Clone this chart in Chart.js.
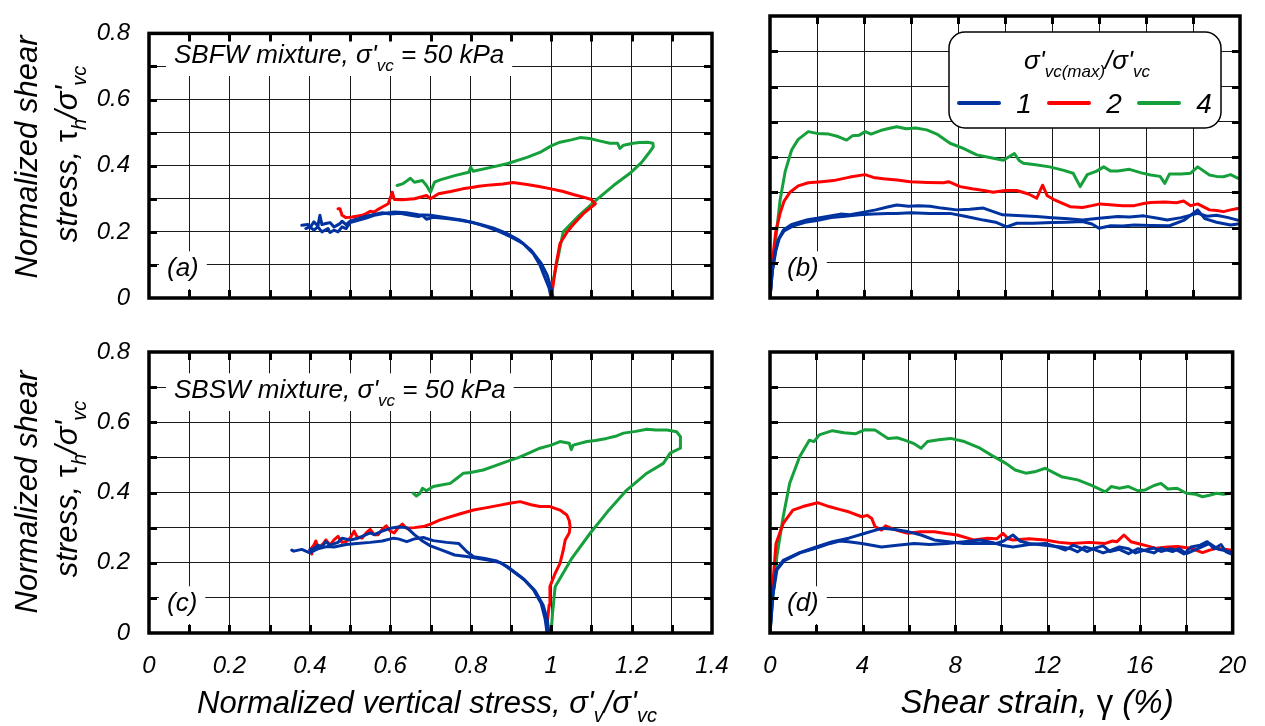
<!DOCTYPE html>
<html>
<head>
<meta charset="utf-8">
<script src="https://cdn.jsdelivr.net/npm/chart.js@4.4.1/dist/chart.umd.min.js"></script>
<style>
  html, body { margin: 0; padding: 0; background: #fff; }
  #wrap { position: relative; width: 1265px; height: 726px; overflow: hidden; }
  #wrap canvas { position: absolute; left: 0; top: 0; }
</style>
</head>
<body>
<div id="wrap">
  <canvas id="panelA" width="1265" height="726"></canvas>
  <canvas id="panelB" width="1265" height="726"></canvas>
  <canvas id="panelC" width="1265" height="726"></canvas>
  <canvas id="panelD" width="1265" height="726"></canvas>
</div>
<script>
// ---------------- data ----------------
// OCR values (sigma'vc(max) / sigma'vc) shown in the legend
const ocrLabels = ['1', '2', '4'];
const ocrColors = ['#0033a0', '#ff0000', '#16a03c'];

// Stress axis ticks (normalized vertical stress) and strain axis ticks (%)
const stressTicks = [0, 0.2, 0.4, 0.6, 0.8, 1, 1.2, 1.4];
const strainTicks = [0, 4, 8, 12, 16, 20];
const shearTicks = [0, 0.2, 0.4, 0.6, 0.8];

// (a) SBFW stress paths: [sigma'v/sigma'vc, tau_h/sigma'vc]
const sbfwPathOcr1a = [[1.00,0.00],[0.995,0.03],[0.985,0.06],[0.972,0.10],[0.955,0.135],[0.93,0.165],[0.90,0.185],[0.873,0.20],[0.84,0.215],[0.806,0.228],[0.77,0.236],[0.74,0.24],[0.706,0.244],[0.69,0.238],[0.68,0.25],[0.67,0.246],[0.65,0.25],[0.624,0.256],[0.60,0.254],[0.58,0.258],[0.557,0.252],[0.54,0.247],[0.52,0.24],[0.50,0.232],[0.49,0.222],[0.48,0.232],[0.475,0.225],[0.465,0.218],[0.46,0.215],[0.45,0.228],[0.44,0.225],[0.43,0.222],[0.425,0.25],[0.42,0.218],[0.41,0.23],[0.40,0.212],[0.395,0.222],[0.38,0.22]];
const sbfwPathOcr1b = [[1.005,0.00],[1.0,0.03],[0.99,0.07],[0.975,0.105],[0.95,0.145],[0.92,0.175],[0.89,0.195],[0.86,0.21],[0.82,0.224],[0.78,0.235],[0.74,0.243],[0.70,0.25],[0.67,0.252],[0.64,0.258],[0.61,0.26],[0.58,0.255],[0.56,0.25],[0.54,0.242],[0.52,0.235],[0.50,0.228],[0.49,0.21],[0.48,0.215],[0.47,0.20],[0.46,0.205],[0.45,0.198],[0.445,0.21],[0.43,0.20],[0.42,0.215],[0.41,0.205],[0.40,0.215],[0.39,0.21]];
const sbfwPathOcr2 = [[1.0,0.0],[1.005,0.04],[1.012,0.10],[1.022,0.165],[1.04,0.20],[1.055,0.222],[1.08,0.255],[1.11,0.285],[1.10,0.298],[1.08,0.305],[1.055,0.313],[1.03,0.322],[1.0,0.33],[0.97,0.337],[0.94,0.343],[0.905,0.349],[0.88,0.345],[0.85,0.342],[0.82,0.338],[0.806,0.335],[0.78,0.33],[0.75,0.322],[0.72,0.315],[0.70,0.30],[0.69,0.31],[0.66,0.30],[0.63,0.297],[0.61,0.298],[0.605,0.32],[0.595,0.285],[0.58,0.275],[0.57,0.268],[0.56,0.26],[0.55,0.262],[0.54,0.255],[0.53,0.25],[0.52,0.248],[0.505,0.245],[0.49,0.243],[0.48,0.25],[0.475,0.27],[0.47,0.27]];
const sbfwPathOcr4 = [[1.0,0.0],[1.003,0.04],[1.008,0.07],[1.02,0.14],[1.03,0.20],[1.07,0.25],[1.114,0.298],[1.155,0.34],[1.196,0.377],[1.225,0.41],[1.246,0.443],[1.254,0.457],[1.253,0.468],[1.24,0.471],[1.22,0.47],[1.204,0.468],[1.18,0.462],[1.171,0.452],[1.165,0.468],[1.146,0.468],[1.12,0.475],[1.096,0.482],[1.072,0.485],[1.05,0.478],[1.022,0.471],[1.0,0.46],[0.972,0.44],[0.94,0.425],[0.89,0.406],[0.85,0.395],[0.806,0.383],[0.80,0.395],[0.795,0.38],[0.76,0.37],[0.724,0.357],[0.71,0.35],[0.70,0.32],[0.69,0.34],[0.68,0.355],[0.66,0.35],[0.65,0.362],[0.641,0.354],[0.63,0.345],[0.617,0.34]];

// (b) SBFW stress-strain: [gamma %, tau_h/sigma'vc]
const sbfwCurveOcr1a = [[0,0],[0.08,0.07],[0.21,0.127],[0.35,0.165],[0.57,0.193],[0.9,0.208],[1.28,0.216],[1.6,0.222],[2.0,0.226],[2.5,0.232],[3.0,0.238],[3.4,0.236],[4.11,0.245],[4.5,0.25],[5.0,0.258],[5.39,0.264],[5.9,0.26],[6.3,0.262],[6.81,0.26],[7.3,0.255],[7.94,0.25],[8.5,0.252],[9.08,0.255],[9.5,0.245],[9.9,0.236],[10.5,0.234],[11.35,0.231],[12.0,0.228],[12.7,0.225],[13.3,0.221],[14.0,0.226],[14.8,0.231],[15.3,0.23],[15.9,0.233],[16.5,0.226],[16.9,0.221],[17.5,0.228],[18.2,0.24],[18.6,0.232],[19.0,0.235],[19.5,0.228],[19.9,0.221]];
const sbfwCurveOcr1b = [[0,0],[0.1,0.075],[0.25,0.135],[0.4,0.17],[0.6,0.19],[1.0,0.205],[1.5,0.215],[2.0,0.22],[2.6,0.228],[3.2,0.232],[3.8,0.236],[4.4,0.238],[5.0,0.24],[5.39,0.24],[6.0,0.242],[6.8,0.24],[7.66,0.24],[8.3,0.232],[9.08,0.221],[9.6,0.215],[10.07,0.202],[10.5,0.212],[11.2,0.212],[12.0,0.214],[12.6,0.215],[13.3,0.217],[13.7,0.21],[14.0,0.198],[14.5,0.205],[15.0,0.204],[15.5,0.207],[16.2,0.206],[17.0,0.205],[17.6,0.22],[18.2,0.25],[18.5,0.225],[19.0,0.215],[19.6,0.207],[19.9,0.21]];
const sbfwCurveOcr2 = [[0,0],[0.14,0.127],[0.25,0.19],[0.43,0.24],[0.6,0.275],[0.85,0.30],[1.2,0.318],[1.63,0.327],[2.2,0.33],[2.7,0.333],[3.4,0.343],[4.04,0.35],[4.4,0.342],[4.82,0.338],[5.4,0.335],[5.96,0.33],[6.7,0.328],[7.38,0.327],[7.6,0.33],[8.09,0.316],[8.6,0.31],[9.1,0.305],[9.5,0.30],[10.0,0.305],[10.5,0.305],[11.0,0.295],[11.35,0.283],[11.6,0.32],[11.8,0.29],[12.06,0.28],[12.4,0.27],[12.77,0.259],[13.3,0.257],[13.7,0.262],[14.04,0.267],[14.6,0.264],[15.0,0.262],[15.5,0.262],[15.9,0.268],[16.2,0.271],[16.8,0.272],[17.3,0.27],[17.6,0.275],[17.9,0.262],[18.2,0.267],[18.7,0.25],[19.0,0.248],[19.3,0.245],[19.6,0.25],[19.9,0.254]];
const sbfwCurveOcr4 = [[0,0],[0.1,0.08],[0.25,0.17],[0.43,0.278],[0.65,0.36],[0.92,0.42],[1.2,0.45],[1.63,0.472],[2.0,0.467],[2.5,0.465],[2.9,0.458],[3.26,0.448],[3.5,0.46],[3.8,0.462],[4.05,0.472],[4.3,0.465],[4.7,0.475],[5.0,0.48],[5.39,0.486],[5.8,0.48],[6.2,0.482],[6.67,0.477],[7.1,0.465],[7.66,0.439],[8.2,0.425],[8.8,0.406],[9.4,0.398],[9.93,0.391],[10.4,0.41],[10.6,0.39],[10.78,0.382],[11.3,0.378],[11.9,0.372],[12.5,0.362],[12.9,0.354],[13.2,0.316],[13.5,0.35],[13.9,0.36],[14.2,0.372],[14.5,0.36],[14.8,0.36],[15.3,0.365],[15.8,0.355],[16.2,0.349],[16.6,0.345],[16.8,0.325],[17.0,0.352],[17.5,0.352],[17.9,0.354],[18.2,0.372],[18.7,0.349],[19.0,0.345],[19.3,0.344],[19.6,0.35],[19.9,0.34]];

// (c) SBSW stress paths
const sbswPathOcr1a = [[0.99,0.0],[0.985,0.04],[0.975,0.085],[0.955,0.125],[0.93,0.155],[0.89,0.19],[0.865,0.205],[0.835,0.212],[0.807,0.217],[0.79,0.232],[0.77,0.255],[0.74,0.258],[0.707,0.263],[0.682,0.272],[0.66,0.268],[0.641,0.26],[0.62,0.268],[0.608,0.27],[0.58,0.262],[0.55,0.258],[0.517,0.255],[0.49,0.252],[0.46,0.245],[0.442,0.246],[0.42,0.24],[0.40,0.228],[0.38,0.238],[0.36,0.233],[0.355,0.236]];
const sbswPathOcr1b = [[0.995,0.0],[0.99,0.04],[0.98,0.08],[0.96,0.12],[0.935,0.15],[0.90,0.18],[0.875,0.20],[0.85,0.206],[0.82,0.212],[0.79,0.218],[0.76,0.222],[0.73,0.235],[0.70,0.248],[0.68,0.262],[0.66,0.28],[0.641,0.30],[0.62,0.302],[0.60,0.298],[0.58,0.29],[0.56,0.28],[0.55,0.285],[0.52,0.27],[0.50,0.265],[0.48,0.27],[0.47,0.258],[0.45,0.25],[0.44,0.26],[0.43,0.245],[0.42,0.25],[0.41,0.24],[0.40,0.238]];
const sbswPathOcr2 = [[0.99,0.0],[0.99,0.023],[0.995,0.08],[0.997,0.132],[1.01,0.17],[1.022,0.198],[1.03,0.235],[1.035,0.265],[1.045,0.285],[1.047,0.303],[1.045,0.32],[1.039,0.336],[1.022,0.35],[0.997,0.36],[0.972,0.36],[0.95,0.365],[0.923,0.374],[0.90,0.37],[0.873,0.364],[0.84,0.357],[0.807,0.35],[0.77,0.338],[0.724,0.322],[0.70,0.31],[0.682,0.303],[0.66,0.30],[0.64,0.298],[0.63,0.31],[0.62,0.30],[0.61,0.285],[0.60,0.29],[0.59,0.305],[0.58,0.295],[0.57,0.28],[0.56,0.28],[0.55,0.295],[0.54,0.285],[0.53,0.27],[0.517,0.274],[0.51,0.29],[0.50,0.27],[0.49,0.26],[0.48,0.258],[0.47,0.275],[0.46,0.265],[0.45,0.25],[0.44,0.265],[0.434,0.255],[0.42,0.24],[0.415,0.262],[0.41,0.25],[0.40,0.236],[0.405,0.225]];
const sbswPathOcr4 = [[1.0,0.0],[1.003,0.05],[1.01,0.132],[1.05,0.21],[1.097,0.284],[1.14,0.345],[1.188,0.407],[1.238,0.455],[1.279,0.483],[1.296,0.512],[1.321,0.526],[1.322,0.545],[1.321,0.559],[1.312,0.573],[1.288,0.578],[1.26,0.578],[1.238,0.58],[1.21,0.574],[1.18,0.569],[1.16,0.56],[1.138,0.554],[1.11,0.548],[1.089,0.545],[1.055,0.535],[1.05,0.522],[1.045,0.54],[1.022,0.545],[1.0,0.535],[0.972,0.526],[0.95,0.515],[0.92,0.50],[0.889,0.488],[0.86,0.476],[0.831,0.464],[0.80,0.457],[0.782,0.455],[0.765,0.44],[0.749,0.426],[0.72,0.42],[0.707,0.417],[0.69,0.405],[0.68,0.412],[0.674,0.398],[0.665,0.39],[0.657,0.398]];

// (d) SBSW stress-strain
const sbswCurveOcr1a = [[0,0],[0.1,0.10],[0.26,0.179],[0.57,0.207],[1.28,0.229],[2.0,0.245],[2.7,0.26],[3.4,0.27],[4.11,0.284],[4.82,0.298],[5.2,0.296],[5.53,0.293],[6.0,0.288],[6.53,0.279],[7.1,0.265],[7.7,0.26],[8.37,0.255],[9.1,0.255],[9.79,0.255],[10.1,0.262],[10.5,0.279],[10.8,0.262],[11.2,0.255],[11.9,0.25],[12.6,0.245],[13.0,0.24],[13.3,0.231],[13.6,0.245],[14.0,0.238],[14.4,0.228],[14.75,0.236],[15.1,0.245],[15.5,0.24],[15.8,0.228],[16.2,0.236],[16.6,0.242],[16.9,0.232],[17.3,0.24],[17.6,0.236],[17.9,0.225],[18.2,0.245],[18.6,0.25],[18.9,0.26],[19.2,0.24],[19.5,0.252],[19.7,0.232],[19.9,0.226]];
const sbswCurveOcr1b = [[0,0],[0.12,0.105],[0.3,0.18],[0.6,0.205],[1.3,0.228],[2.0,0.242],[2.6,0.255],[3.0,0.262],[3.4,0.26],[3.97,0.255],[4.4,0.25],[4.82,0.245],[5.5,0.25],[6.24,0.255],[6.9,0.252],[7.66,0.255],[8.4,0.26],[9.08,0.265],[9.6,0.258],[10.0,0.25],[10.5,0.245],[11.2,0.252],[11.9,0.255],[12.4,0.245],[12.77,0.236],[13.1,0.25],[13.4,0.243],[13.7,0.232],[14.0,0.241],[14.4,0.248],[14.7,0.232],[15.1,0.238],[15.5,0.226],[15.9,0.24],[16.2,0.235],[16.6,0.228],[16.9,0.241],[17.4,0.232],[17.7,0.24],[18.0,0.226],[18.5,0.24],[19.0,0.255],[19.4,0.238],[19.9,0.231]];
const sbswCurveOcr2 = [[0,0],[0.1,0.12],[0.26,0.255],[0.57,0.312],[0.99,0.35],[1.42,0.36],[2.06,0.371],[2.55,0.36],[3.0,0.352],[3.4,0.345],[3.97,0.331],[4.2,0.335],[4.4,0.326],[4.54,0.303],[4.82,0.293],[5.0,0.305],[5.25,0.298],[5.6,0.29],[5.96,0.284],[6.5,0.288],[7.1,0.288],[7.6,0.283],[8.09,0.279],[8.8,0.265],[9.4,0.27],[9.8,0.268],[10.07,0.284],[10.3,0.268],[10.5,0.265],[11.2,0.268],[11.9,0.265],[12.5,0.258],[13.05,0.255],[13.8,0.258],[14.5,0.255],[14.8,0.262],[15.0,0.26],[15.3,0.279],[15.6,0.26],[15.9,0.255],[16.3,0.248],[16.7,0.241],[17.2,0.245],[17.6,0.246],[18.2,0.241],[18.7,0.229],[19.0,0.236],[19.3,0.241],[19.9,0.236]];
const sbswCurveOcr4 = [[0,0],[0.15,0.12],[0.3,0.22],[0.57,0.331],[0.85,0.426],[1.28,0.502],[1.7,0.549],[1.9,0.545],[2.13,0.564],[2.7,0.576],[3.2,0.57],[3.69,0.567],[4.11,0.579],[4.54,0.578],[5.1,0.554],[5.5,0.556],[5.82,0.549],[6.2,0.54],[6.53,0.526],[6.81,0.545],[7.3,0.55],[7.8,0.554],[8.4,0.545],[9.08,0.526],[9.6,0.505],[10.2,0.483],[10.6,0.464],[11.06,0.455],[11.5,0.46],[11.9,0.469],[12.3,0.455],[12.6,0.445],[13.3,0.436],[13.9,0.42],[14.5,0.402],[14.75,0.417],[15.1,0.412],[15.5,0.417],[15.9,0.405],[16.2,0.407],[16.6,0.42],[16.9,0.426],[17.2,0.41],[17.6,0.412],[18.0,0.398],[18.4,0.395],[18.7,0.388],[19.0,0.392],[19.3,0.398],[19.6,0.395],[19.9,0.398]];

// ---------------- drawing helpers ----------------
const FONT = "'Liberation Sans', Arial, Helvetica, sans-serif";

function runFont(run, size) {
  const s = run.sub ? Math.round(size * 0.64) : size;
  return (run.upright ? '' : 'italic ') + s + 'px ' + FONT;
}
function richWidth(ctx, runs, size) {
  let w = 0;
  for (const r of runs) { ctx.font = runFont(r, size); w += ctx.measureText(r.t).width; }
  return w;
}
// Draws a line of text with optional subscript runs; y is the baseline
function drawRich(ctx, runs, x, y, size, align) {
  const w = richWidth(ctx, runs, size);
  let cx = align === 'center' ? x - w / 2 : align === 'right' ? x - w : x;
  ctx.textAlign = 'left';
  ctx.textBaseline = 'alphabetic';
  for (const r of runs) {
    ctx.font = runFont(r, size);
    ctx.fillText(r.t, cx, y + (r.sub ? size * 0.3 : 0));
    cx += ctx.measureText(r.t).width;
  }
  return w;
}

// Text labels with a white backing box that hides the grid underneath
const notesPlugin = {
  id: 'notes',
  beforeDatasetsDraw(chart, args, opts) {
    const ctx = chart.ctx;
    ctx.save();
    for (const n of (opts.items || [])) {
      const w = richWidth(ctx, n.runs, n.size);
      ctx.fillStyle = '#fff';
      ctx.fillRect(n.x - n.pad, n.y - n.size * 0.95, w + 2 * n.pad, n.size * 1.45);
      ctx.fillStyle = '#000';
      drawRich(ctx, n.runs, n.x, n.y, n.size, 'left');
    }
    ctx.restore();
  }
};

// Heavy frame and inward tick marks on all four sides
const framePlugin = {
  id: 'frame',
  afterDatasetsDraw(chart) {
    const { ctx, chartArea: a } = chart;
    const xs = chart.scales.x, ys = chart.scales.y;
    const L = 8;
    ctx.save();
    ctx.strokeStyle = '#000';
    ctx.lineWidth = 3;
    ctx.beginPath();
    xs.ticks.forEach(t => {
      const p = Math.round(xs.getPixelForValue(t.value)) + 0.5;
      if (p <= a.left + 3 || p >= a.right - 3) return;
      ctx.moveTo(p, a.bottom); ctx.lineTo(p, a.bottom - L);
      ctx.moveTo(p, a.top); ctx.lineTo(p, a.top + L);
    });
    ys.ticks.forEach(t => {
      const p = Math.round(ys.getPixelForValue(t.value)) + 0.5;
      if (p <= a.top + 3 || p >= a.bottom - 3) return;
      ctx.moveTo(a.left, p); ctx.lineTo(a.left + L, p);
      ctx.moveTo(a.right, p); ctx.lineTo(a.right - L, p);
    });
    ctx.stroke();
    ctx.lineWidth = 3.5;
    ctx.strokeRect(a.left, a.top, a.right - a.left, a.bottom - a.top);
    ctx.restore();
  }
};

// Axis titles drawn outside the plot area
const titlesPlugin = {
  id: 'titles',
  afterDraw(chart, args, opts) {
    const ctx = chart.ctx;
    ctx.save();
    ctx.fillStyle = '#000';
    for (const t of (opts.items || [])) {
      if (t.rotate) {
        ctx.save();
        ctx.translate(t.x, t.y);
        ctx.rotate(-Math.PI / 2);
        drawRich(ctx, t.runs, 0, 0, t.size, 'center');
        ctx.restore();
      } else {
        drawRich(ctx, t.runs, t.x, t.y, t.size, 'center');
      }
    }
    ctx.restore();
  }
};

// Rounded legend box with the OCR title and one line sample per series
const ocrLegendPlugin = {
  id: 'ocrLegend',
  afterDatasetsDraw(chart, args, opts) {
    if (!opts.show) return;
    const ctx = chart.ctx;
    const { x0, y0, x1, y1, r } = opts.box;
    ctx.save();
    ctx.beginPath();
    ctx.roundRect(x0, y0, x1 - x0, y1 - y0, r);
    ctx.fillStyle = '#fff';
    ctx.fill();
    ctx.lineWidth = 1.5;
    ctx.strokeStyle = '#000';
    ctx.stroke();
    ctx.fillStyle = '#000';
    drawRich(ctx, [{ t: 'σ\'' }, { t: 'vc(max)', sub: true }, { t: '/σ\'' }, { t: 'vc', sub: true }],
      (x0 + x1) / 2 + 2, y0 + 37, 26, 'center');
    const step = 90;
    ocrLabels.forEach((lab, i) => {
      const lx = x0 + 10 + i * step;
      const ly = y0 + 71;
      ctx.strokeStyle = ocrColors[i];
      ctx.lineWidth = 4;
      ctx.lineCap = 'round';
      ctx.beginPath();
      ctx.moveTo(lx, ly); ctx.lineTo(lx + 40, ly);
      ctx.stroke();
      ctx.fillStyle = '#000';
      ctx.font = 'italic 28px ' + FONT;
      ctx.textAlign = 'center';
      ctx.textBaseline = 'alphabetic';
      ctx.fillText(lab, lx + 65, ly + 10);
    });
    ctx.restore();
  }
};

Chart.register(notesPlugin, framePlugin, titlesPlugin, ocrLegendPlugin);

const W = 1265, H = 726;
const tickFont = { family: FONT, style: 'italic', size: 24 };

function fmtShear(v) {
  const lbl = shearTicks.find(s => Math.abs(s - v) < 1e-6);
  return lbl === undefined ? '' : String(lbl);
}
function fmtStress(v) {
  const lbl = stressTicks.find(s => Math.abs(s - v) < 1e-6);
  return lbl === undefined ? '' : String(lbl);
}
function fmtStrain(v) {
  const lbl = strainTicks.find(s => Math.abs(s - v) < 1e-6);
  return lbl === undefined ? '' : String(lbl);
}

function toXY(arr) { return arr.map(p => ({ x: p[0], y: p[1] })); }

function makePanel(id, cfg) {
  const area = cfg.area;
  const xLabels = cfg.xLabels, yLabels = cfg.yLabels;
  const datasets = cfg.series.map(s => ({
    data: toXY(s.data),
    showLine: true,
    borderColor: ocrColors[s.ocr],
    backgroundColor: ocrColors[s.ocr],
    borderWidth: 3,
    pointRadius: 0,
    pointHoverRadius: 0,
    tension: 0,
    borderJoinStyle: 'round',
    borderCapStyle: 'round'
  }));
  return new Chart(document.getElementById(id), {
    type: 'scatter',
    data: { datasets },
    options: {
      responsive: false,
      animation: false,
      devicePixelRatio: 1,
      events: [],
      layout: {
        padding: {
          left: 0,
          top: area.top,
          right: W - area.right,
          bottom: H - area.bottom - (xLabels ? 40 : 0)
        }
      },
      plugins: {
        legend: { display: false },
        tooltip: { enabled: false },
        notes: { items: cfg.notes || [] },
        titles: { items: cfg.titles || [] },
        ocrLegend: cfg.legend || { show: false }
      },
      scales: {
        x: {
          type: 'linear',
          position: 'bottom',
          min: cfg.xMin, max: cfg.xMax,
          grid: { color: '#1a1a1a', lineWidth: 1, drawTicks: false },
          border: { display: false },
          ticks: {
            display: xLabels,
            stepSize: cfg.xStep,
            autoSkip: false,
            maxRotation: 0,
            padding: 19,
            color: '#000',
            font: tickFont,
            callback: v => cfg.xFmt(v)
          },
          afterFit: s => { s.height = xLabels ? 40 : 0; }
        },
        y: {
          type: 'linear',
          position: 'left',
          min: 0, max: 0.8,
          grid: { color: '#1a1a1a', lineWidth: 1, drawTicks: false },
          border: { display: false },
          ticks: {
            display: yLabels,
            stepSize: 0.1,
            autoSkip: false,
            padding: 19,
            color: '#000',
            font: tickFont,
            callback: v => fmtShear(v)
          },
          afterFit: s => { s.width = area.left; }
        }
      }
    }
  });
}

const yTitle = (cy) => ([
  { rotate: true, x: 37, y: cy, size: 31, runs: [{ t: 'Normalized shear' }] },
  { rotate: true, x: 77, y: cy - 3, size: 31, runs: [{ t: 'stress, ' }, { t: 'τ', upright: true }, { t: 'h', sub: true }, { t: '/σ\'' }, { t: 'vc', sub: true }] }
]);

const panelNote = (label, baseline) => ({
  x: 174, y: baseline, size: 26, pad: 8,
  runs: [{ t: label + ' mixture, σ\'' }, { t: 'vc', sub: true }, { t: ' = 50 kPa' }]
});

// (a)
makePanel('panelA', {
  area: { left: 149, right: 712, top: 16, bottom: 298 },
  xMin: 0, xMax: 1.4, xStep: 0.1, xFmt: fmtStress,
  xLabels: false, yLabels: true,
  series: [
    { data: sbfwPathOcr1a, ocr: 0 }, { data: sbfwPathOcr1b, ocr: 0 },
    { data: sbfwPathOcr2, ocr: 1 }, { data: sbfwPathOcr4, ocr: 2 }
  ],
  notes: [panelNote('SBFW', 63), { x: 167, y: 276, size: 26, pad: 8, runs: [{ t: '(a)' }] }],
  titles: yTitle(157)
});

// (b)
makePanel('panelB', {
  area: { left: 770, right: 1240, top: 16, bottom: 298 },
  xMin: 0, xMax: 20, xStep: 2, xFmt: fmtStrain,
  xLabels: false, yLabels: false,
  series: [
    { data: sbfwCurveOcr1a, ocr: 0 }, { data: sbfwCurveOcr1b, ocr: 0 },
    { data: sbfwCurveOcr2, ocr: 1 }, { data: sbfwCurveOcr4, ocr: 2 }
  ],
  notes: [{ x: 787, y: 276, size: 26, pad: 8, runs: [{ t: '(b)' }] }],
  legend: { show: true, box: { x0: 949, y0: 32, x1: 1221, y1: 128, r: 16 } }
});

// (c)
makePanel('panelC', {
  area: { left: 149, right: 712, top: 352, bottom: 633 },
  xMin: 0, xMax: 1.4, xStep: 0.1, xFmt: fmtStress,
  xLabels: true, yLabels: true,
  series: [
    { data: sbswPathOcr1a, ocr: 0 }, { data: sbswPathOcr1b, ocr: 0 },
    { data: sbswPathOcr2, ocr: 1 }, { data: sbswPathOcr4, ocr: 2 }
  ],
  notes: [panelNote('SBSW', 398), { x: 167, y: 611, size: 26, pad: 8, runs: [{ t: '(c)' }] }],
  titles: yTitle(492).concat([
    { x: 427, y: 713, size: 31, runs: [{ t: 'Normalized vertical stress, σ\'' }, { t: 'v', sub: true }, { t: '/σ\'' }, { t: 'vc', sub: true }] }
  ])
});

// (d)
makePanel('panelD', {
  area: { left: 770, right: 1240, top: 352, bottom: 633 },
  xMin: 0, xMax: 20, xStep: 2, xFmt: fmtStrain,
  xLabels: true, yLabels: false,
  series: [
    { data: sbswCurveOcr1a, ocr: 0 }, { data: sbswCurveOcr1b, ocr: 0 },
    { data: sbswCurveOcr2, ocr: 1 }, { data: sbswCurveOcr4, ocr: 2 }
  ],
  notes: [{ x: 787, y: 611, size: 26, pad: 8, runs: [{ t: '(d)' }] }],
  titles: [
    { x: 1037, y: 713, size: 33, runs: [{ t: 'Shear strain, ' }, { t: 'γ', upright: true }, { t: ' (%)' }] }
  ]
});
</script>
</body>
</html>
